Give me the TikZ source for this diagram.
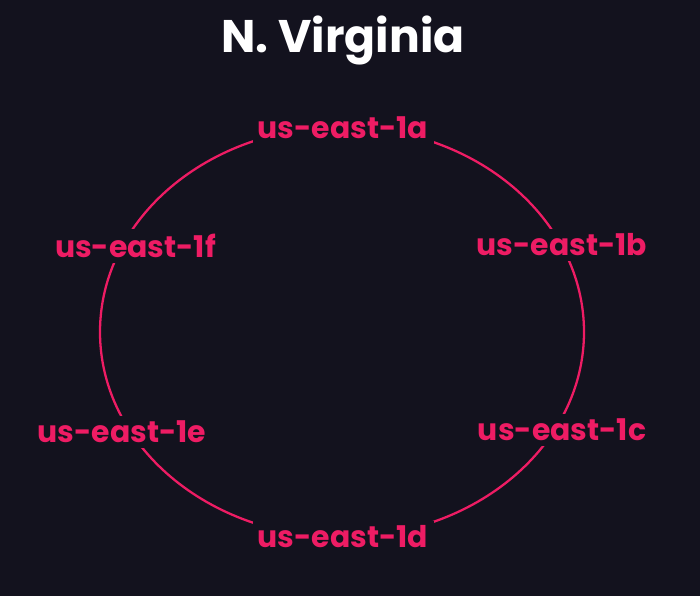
\documentclass[tikz,border=0pt]{standalone}
\usepackage{fontspec}
\setmainfont{Poppins}
\usepackage{tikz}
\usetikzlibrary{calc}
\definecolor{night}{HTML}{13121E}
\definecolor{zonepink}{HTML}{EE1C64}

\begin{document}
\begin{tikzpicture}
  \tikzstyle{zone}=[fill=night,text=zonepink,inner sep=3pt,font=\fontsize{17}{19}\selectfont\bfseries]
  \fill[night] (0,0) rectangle (14,11.92);

  \node[text=white,font=\fontsize{26}{30}\selectfont\bfseries] (title) at (6.86,11.12) {N. Virginia};

  \coordinate (region) at (6.84,5.28);
  \draw[zonepink,line width=1.3pt] (region) ellipse (4.84 and 4.1);

  \node[zone] (a) at (6.86,9.36) {us-east-1a};
  \node[zone] (b) at (11.24,7.02) {us-east-1b};
  \node[zone] (c) at (11.24,3.32) {us-east-1c};
  \node[zone] (d) at (6.86,1.18) {us-east-1d};
  \node[zone] (e) at (2.44,3.28) {us-east-1e};
  \node[zone] (f) at (2.71,7.0) {us-east-1f};
\end{tikzpicture}
\end{document}
